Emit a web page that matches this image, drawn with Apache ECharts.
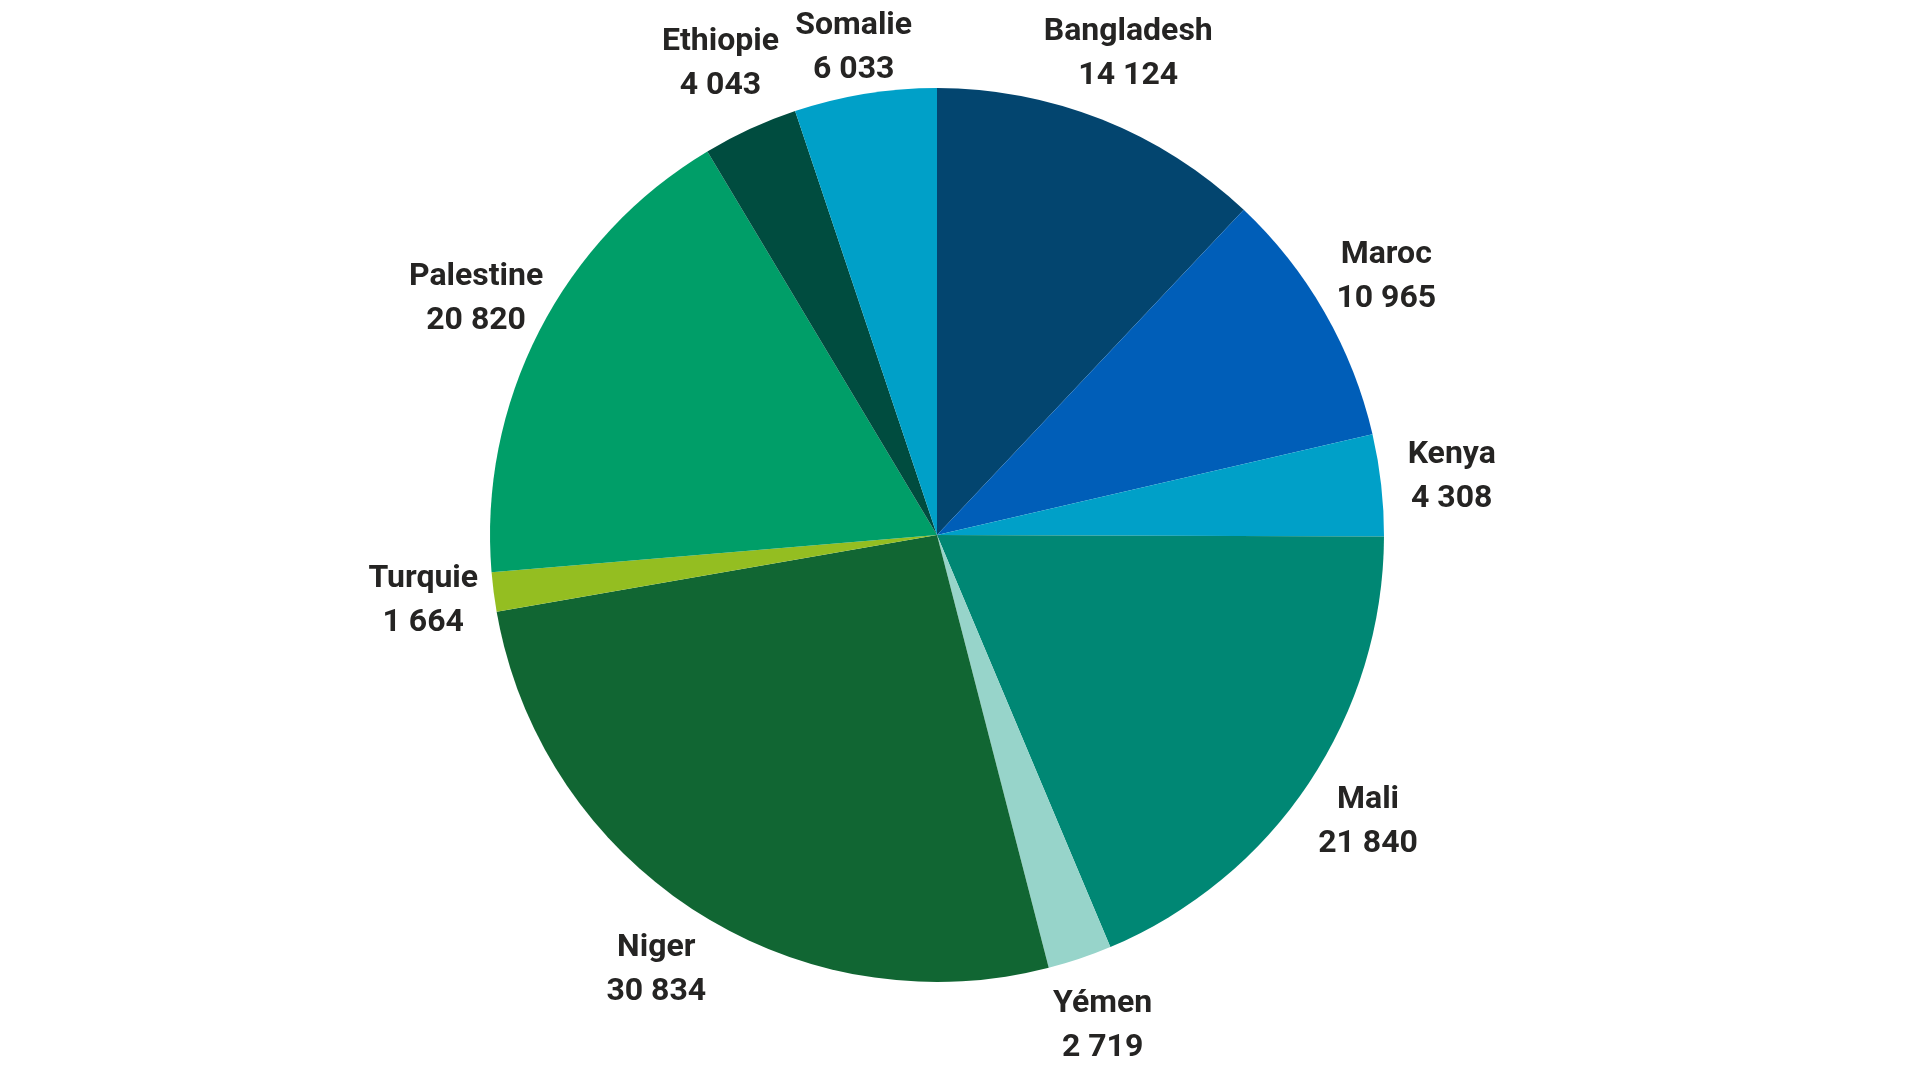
<!DOCTYPE html>
<html>
<head>
<meta charset="utf-8">
<script src="https://cdn.jsdelivr.net/npm/echarts@6/dist/echarts.min.js"></script>
<style>
html,body{margin:0;padding:0;background:#ffffff;}
#chart{width:1920px;height:1080px;}
</style>
</head>
<body>
<div id="chart"></div>
<script>
const categories = ['Bangladesh', 'Maroc', 'Kenya', 'Mali', 'Yémen', 'Niger', 'Turquie', 'Palestine', 'Ethiopie', 'Somalie'];
const values = [14124, 10965, 4308, 21840, 2719, 30834, 1664, 20820, 4043, 6033];
const colors = ['#03456F', '#005EB8', '#00A0C8', '#008774', '#97D4CA', '#116633', '#94BE21', '#009E68', '#004C3F', '#00A0C8'];

function fmt(v) {
  return String(v).replace(/\B(?=(\d{3})+(?!\d))/g, ' ');
}

const pieData = categories.map((c, i) => ({ name: c, value: values[i], itemStyle: { color: colors[i] } }));
const labelData = categories.map((c, i) => ({ name: c, value: values[i] }));

const chart = echarts.init(document.getElementById('chart'));
chart.setOption({
  animation: false,
  backgroundColor: '#ffffff',
  series: [
    {
      type: 'pie',
      center: [937, 535],
      radius: [0, 447],
      startAngle: 90,
      clockwise: true,
      label: { show: false },
      labelLine: { show: false },
      itemStyle: { borderWidth: 0 },
      data: pieData
    },
    {
      type: 'pie',
      center: [937, 535],
      radius: [447, 583],
      startAngle: 90,
      clockwise: true,
      silent: true,
      itemStyle: { color: 'rgba(0,0,0,0)' },
      labelLine: { show: false },
      label: {
        show: true,
        position: 'inside',
        formatter: p => p.name + '\n' + fmt(p.value),
        fontFamily: 'Roboto',
        fontWeight: 'bold',
        fontSize: 32,
        lineHeight: 44,
        color: '#252423',
        align: 'center'
      },
      labelLayout: function (params) {
        const r = params.labelRect;
        if (r.y < 4) {
          return { dy: 4 - r.y };
        }
        return {};
      },
      data: labelData
    }
  ]
});
</script>
</body>
</html>
